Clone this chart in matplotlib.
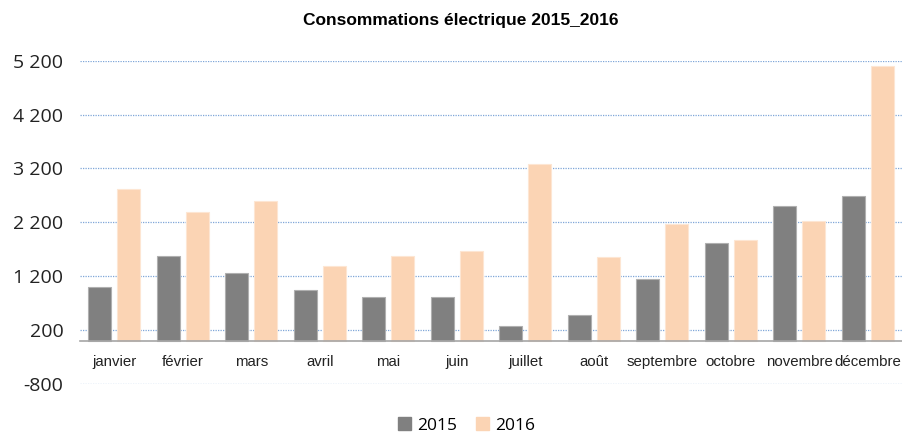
import matplotlib
matplotlib.use("Agg")
import matplotlib.pyplot as plt
import numpy as np
from matplotlib.ticker import FuncFormatter, FixedLocator
from matplotlib.patches import Patch

months = ["janvier", "février", "mars", "avril", "mai", "juin", "juillet",
          "août", "septembre", "octobre", "novembre", "décembre"]
conso_2015 = [1005, 1570, 1260, 940, 815, 815, 280, 480, 1150, 1815, 2495, 2680]
conso_2016 = [2820, 2390, 2605, 1390, 1570, 1665, 3280, 1550, 2170, 1870, 2225, 5110]
series_names = ["2015", "2016"]
yticks = [-800, 200, 1200, 2200, 3200, 4200, 5200]
title = "Consommations électrique 2015_2016"

c2015 = "#808080"
c2016 = "#FBD4B4"

narrow = ["Liberation Sans Narrow", "Liberation Sans", "DejaVu Sans"]

fig = plt.figure(figsize=(9.03, 4.34), dpi=100)
ax = fig.add_axes([0.0886, 0.1152, 0.9104, 0.7449])

x = np.arange(len(months))
w = 0.335
ax.bar(x - 0.212, conso_2015, width=w, color=c2015, edgecolor="#B0B0B0", linewidth=0.8, zorder=3)
ax.bar(x + 0.212, conso_2016, width=w, color=c2016, edgecolor="#FDE6D3", linewidth=0.8, zorder=3)

ax.set_xlim(-0.5, len(months) - 0.5)
ax.set_ylim(-800, 5200)
ax.yaxis.set_major_locator(FixedLocator(yticks))
ax.yaxis.set_major_formatter(FuncFormatter(lambda v, p: f"{int(v):,}".replace(",", " ")))
ax.grid(axis="y", color="#7FA6D8", linestyle=(0, (1, 1)), linewidth=0.9, zorder=0)
ax.set_axisbelow(True)

for s in ["top", "right", "left"]:
    ax.spines[s].set_visible(False)
ax.spines["bottom"].set_position(("data", 0))
ax.spines["bottom"].set_color("#A6A6A6")
ax.spines["bottom"].set_linewidth(1.2)
ax.spines["bottom"].set_zorder(4)

ax.set_xticks(x)
ax.set_xticklabels(months, family=narrow, fontsize=10.8, color="#222222")
ax.tick_params(axis="x", length=0, pad=10)
ax.tick_params(axis="y", length=0, pad=12, labelsize=14, labelcolor="#222222")
for lab in ax.get_yticklabels():
    lab.set_family(["Open Sans", "DejaVu Sans"])

fig.text(0.51, 0.953, title, ha="center", va="center", fontsize=12.5,
         fontweight="bold", family=narrow)

handles = [Patch(facecolor=c2015, edgecolor=c2015), Patch(facecolor=c2016, edgecolor=c2016)]
fig.legend(handles, series_names, loc="center", bbox_to_anchor=(0.517, 0.02),
           ncol=2, frameon=False, handlelength=0.75, handleheight=0.75,
           handletextpad=0.35, columnspacing=1.1, borderpad=0.05,
           prop={"family": ["Open Sans", "DejaVu Sans"], "size": 12.5})

fig.savefig("out.png", dpi=100)
